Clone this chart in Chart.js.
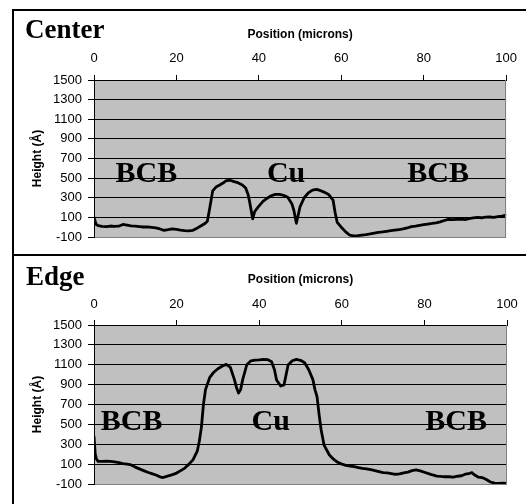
<!DOCTYPE html>
<html><head><meta charset="utf-8">
<script src="https://cdn.jsdelivr.net/npm/chart.js@4/dist/chart.umd.min.js"></script>
<style>
html,body{margin:0;padding:0;background:#fff;}
body{width:526px;height:504px;position:relative;overflow:hidden;}
.cv{position:absolute;left:0;}
.ln{position:absolute;background:#000;}
</style></head><body>
<div class="cv" style="top:0;"><canvas id="c1" width="526" height="255"></canvas></div>
<div class="cv" style="top:255px;"><canvas id="c2" width="526" height="249"></canvas></div>
<div class="ln" style="left:12px;top:9px;width:514px;height:2px"></div>
<div class="ln" style="left:12px;top:9px;width:2px;height:495px"></div>
<div class="ln" style="left:12px;top:254px;width:514px;height:2px"></div>
<script>
// ---- data ----
const positionTicks = [0, 20, 40, 60, 80, 100];
const heightTicks = [-100, 100, 300, 500, 700, 900, 1100, 1300, 1500];

const centerPositions = [0,0.5,1,2,3,4,5,6,7,8,9,10,11,12,13,14,15,16,17,18,19,20,21,22,23,24,25,26,27,27.5,28,28.8,29.7,30.5,31.3,32.1,33,34,34.9,36,36.8,37.4,37.8,38.5,39,40,41,42,43,44,45,46,47,48,48.5,49.1,50,51,52,53,54,55,56,57,58,58.5,59,60,61,62,63,64,65,66,67,68,69,70,71,72,73,74,75,76,77,78,79,80,81,82,83,84,85,86,87,88,89,90,91,92,93,94,95,96,97,98,99,100];
const centerHeights = [100,30,15,8,5,12,8,10,28,22,14,10,6,2,4,-2,-8,-18,-32,-26,-18,-22,-30,-36,-38,-32,-10,15,40,60,175,370,413,430,450,474,478,464,454,430,400,330,250,85,160,215,263,295,320,335,335,325,305,240,170,40,209,300,350,378,386,372,355,330,277,150,50,0,-45,-80,-88,-85,-80,-75,-68,-60,-52,-48,-42,-36,-30,-24,-18,-8,5,10,18,25,32,38,45,55,68,80,76,80,82,78,88,95,100,96,102,104,100,108,112,124];

const edgePositions = [0,0.3,0.6,1,2,3,4,5,6,7,8,9,10,11,12,13,14,15,16,16.5,17,18,19,20,21,22,23,24,25,25.5,26,26.5,27,28,29,30,31,32,33,34,34.5,35,35.5,36,37,38,39,40,41,42,43,43.7,44.2,45.2,46,47,48,49,50,51,52,53,53.5,54,54.5,55,55.7,57,58,59,60,61,62,63,64,65,66,67,68,69,70,71,72,73,74,75,76,77,78,79,80,81,82,83,84,85,86,87,88,89,90,91,91.5,92,93,94,95,96,97,98,99,100];
const edgeHeights = [376,200,150,128,128,130,128,122,115,105,100,92,70,52,35,18,5,-10,-28,-35,-30,-18,-5,10,35,60,100,145,230,330,470,700,850,970,1025,1060,1085,1104,1075,950,870,815,850,950,1100,1140,1147,1150,1154,1152,1130,1050,946,886,896,1097,1140,1154,1145,1120,1050,950,850,780,600,443,292,192,150,118,100,88,80,74,66,58,52,44,35,25,14,12,5,-2,1,12,20,34,41,32,18,5,-9,-20,-24,-27,-27,-30,-22,-17,0,8,15,-5,-30,-35,-55,-80,-92,-93,-92,-93];

const centerNotes = [{text:'BCB', x:12.7, y:462}, {text:'Cu', x:46.6, y:462}, {text:'BCB', x:83.5, y:462}];
const edgeNotes = [{text:'BCB', x:9.1, y:443}, {text:'Cu', x:42.8, y:443}, {text:'BCB', x:87.7, y:443}];

// ---- drawing ----
const SANS = '"Liberation Sans", Arial, sans-serif';
const SERIF = '"Liberation Serif", "Times New Roman", serif';

const plotDecor = {
  id: 'plotDecor',
  beforeDraw(chart) {
    const {ctx, chartArea: a} = chart;
    ctx.save();
    ctx.fillStyle = '#C0C0C0';
    ctx.fillRect(a.left, a.top, a.right - a.left, a.bottom - a.top);
    ctx.restore();
  },
  afterDatasetsDraw(chart, args, opts) {
    const {ctx, chartArea: a, scales} = chart;
    ctx.save();
    ctx.strokeStyle = '#808080';
    ctx.lineWidth = 1;
    ctx.beginPath();
    ctx.moveTo(Math.round(a.right) - 0.5, a.top);
    ctx.lineTo(Math.round(a.right) - 0.5, a.bottom);
    ctx.stroke();
    ctx.fillStyle = '#000';
    ctx.font = 'bold 30px ' + SERIF;
    ctx.textAlign = 'center';
    ctx.textBaseline = 'alphabetic';
    (opts.notes || []).forEach(n => {
      ctx.fillText(n.text, scales.x.getPixelForValue(n.x), scales.y.getPixelForValue(n.y));
    });
    ctx.textAlign = 'left';
    ctx.font = 'bold 27px ' + SERIF;
    ctx.fillText(opts.title, opts.titleX, opts.titleY);
    ctx.restore();
  }
};

function buildOptions(p) {
  return {
    responsive: false,
    animation: false,
    events: [],
    layout: {padding: {left: 0, right: 19, top: 0, bottom: p.padBottom}},
    plugins: {
      legend: {display: false},
      tooltip: {enabled: false},
      plotDecor: {title: p.title, titleX: p.titleX, titleY: p.titleY, notes: p.notes}
    },
    scales: {
      x: {
        type: 'linear', position: 'top', min: 0, max: 100,
        afterFit(s) { s.height = p.xAxisHeight; },
        afterBuildTicks(s) { s.ticks = positionTicks.map(v => ({value: v})); },
        ticks: {color: '#000', font: {family: SANS, size: 13}, padding: p.xTickPad, maxRotation: 0, autoSkip: false,
                callback: v => String(v)},
        grid: {drawOnChartArea: false, drawTicks: true, tickLength: 5, tickColor: '#000', tickWidth: 1},
        border: {display: true, color: '#000', width: 1},
        title: {display: true, text: 'Position (microns)', color: '#000',
                font: {family: SANS, size: 12, weight: 'bold'}, padding: {top: p.xTitlePad, bottom: 0}}
      },
      y: {
        type: 'linear', min: -100, max: 1500,
        afterFit(s) { s.width = 94; },
        afterBuildTicks(s) { s.ticks = heightTicks.map(v => ({value: v})); },
        ticks: {color: '#000', font: {family: SANS, size: 13}, padding: 6, callback: v => String(v)},
        grid: {color: c => (c.tick && c.tick.value === -100) ? '#808080' : '#000',
               lineWidth: 1, tickLength: 6, tickColor: '#000', tickWidth: 1},
        border: {display: true, color: '#000', width: 1},
        title: {display: true, text: 'Height (Å)', color: '#000',
                font: {family: SANS, size: 12, weight: 'bold'}, padding: {top: 30, bottom: 0}}
      }
    }
  };
}

function makeChart(id, positions, heights, p) {
  return new Chart(document.getElementById(id), {
    type: 'line',
    data: {
      datasets: [{
        data: positions.map((x, i) => ({x: x, y: heights[i]})),
        borderColor: '#000', borderWidth: 2.8, pointRadius: 0, tension: 0,
        fill: false, borderJoinStyle: 'round', borderCapStyle: 'round'
      }]
    },
    options: buildOptions(p),
    plugins: [plotDecor]
  });
}

makeChart('c1', centerPositions, centerHeights, {
  padBottom: 18, xAxisHeight: 80, xTickPad: 9, xTitlePad: 27,
  title: 'Center', titleX: 25, titleY: 38, notes: centerNotes
});
makeChart('c2', edgePositions, edgeHeights, {
  padBottom: 20, xAxisHeight: 70, xTickPad: 7.5, xTitlePad: 17,
  title: 'Edge', titleX: 26, titleY: 29.5, notes: edgeNotes
});
</script>
</body></html>
